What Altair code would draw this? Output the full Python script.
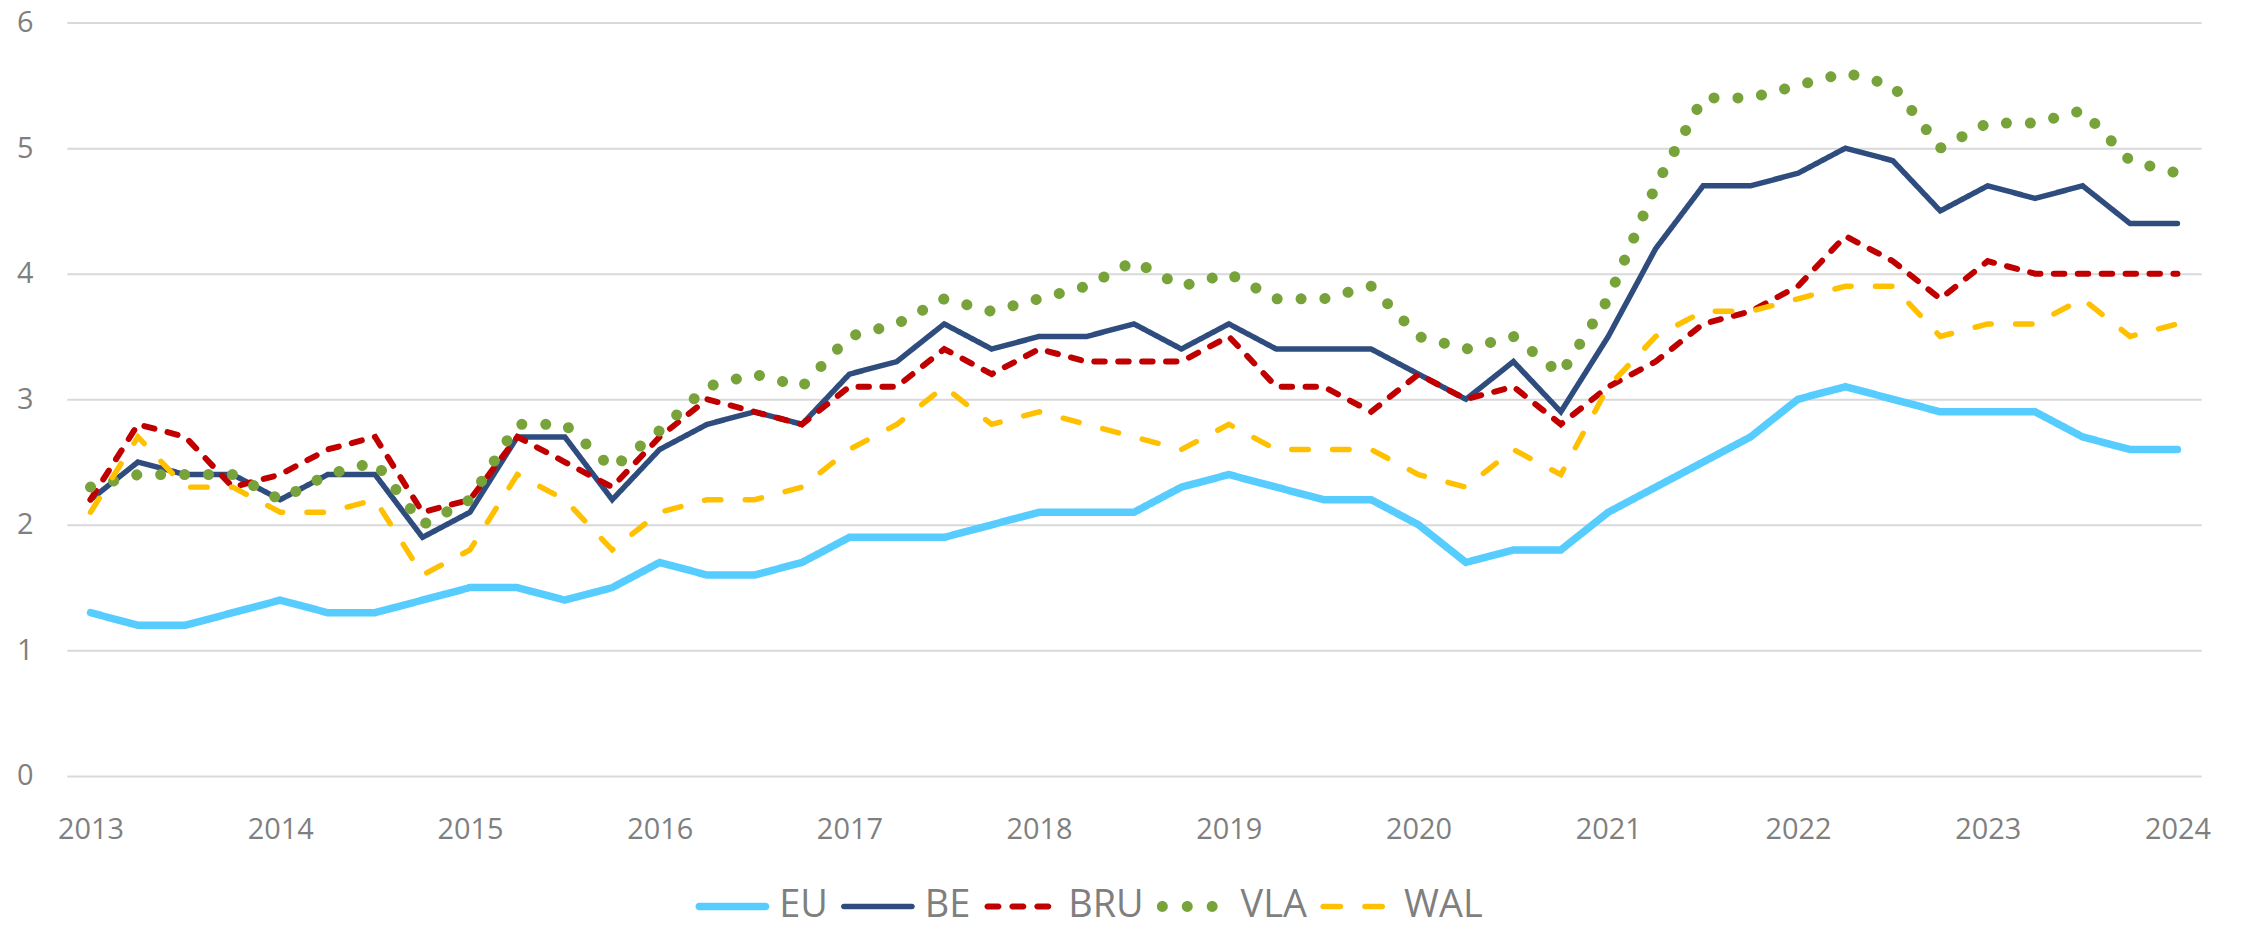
import altair as alt
import pandas as pd

# ---- data (quarterly, 2013Q1 .. 2024Q1) ----
year_labels = [str(y) for y in range(2013, 2025)]
series_names = ["EU", "BE", "BRU", "VLA", "WAL"]

eu = [1.3, 1.2, 1.2, 1.3, 1.4, 1.3, 1.3, 1.4, 1.5, 1.5, 1.4, 1.5, 1.7, 1.6, 1.6, 1.7,
      1.9, 1.9, 1.9, 2.0, 2.1, 2.1, 2.1, 2.3, 2.4, 2.3, 2.2, 2.2, 2.0, 1.7, 1.8, 1.8,
      2.1, 2.3, 2.5, 2.7, 3.0, 3.1, 3.0, 2.9, 2.9, 2.9, 2.7, 2.6, 2.6]
be = [2.2, 2.5, 2.4, 2.4, 2.2, 2.4, 2.4, 1.9, 2.1, 2.7, 2.7, 2.2, 2.6, 2.8, 2.9, 2.8,
      3.2, 3.3, 3.6, 3.4, 3.5, 3.5, 3.6, 3.4, 3.6, 3.4, 3.4, 3.4, 3.2, 3.0, 3.3, 2.9,
      3.5, 4.2, 4.7, 4.7, 4.8, 5.0, 4.9, 4.5, 4.7, 4.6, 4.7, 4.4, 4.4]
bru = [2.2, 2.8, 2.7, 2.3, 2.4, 2.6, 2.7, 2.1, 2.2, 2.7, 2.5, 2.3, 2.7, 3.0, 2.9, 2.8,
       3.1, 3.1, 3.4, 3.2, 3.4, 3.3, 3.3, 3.3, 3.5, 3.1, 3.1, 2.9, 3.2, 3.0, 3.1, 2.8,
       3.1, 3.3, 3.6, 3.7, 3.9, 4.3, 4.1, 3.8, 4.1, 4.0, 4.0, 4.0, 4.0]
vla = [2.3, 2.4, 2.4, 2.4, 2.2, 2.4, 2.5, 2.0, 2.2, 2.8, 2.8, 2.45, 2.75, 3.1, 3.2, 3.1,
       3.5, 3.6, 3.8, 3.7, 3.8, 3.9, 4.1, 3.9, 4.0, 3.8, 3.8, 3.9, 3.5, 3.4, 3.5, 3.2,
       3.8, 4.7, 5.4, 5.4, 5.5, 5.6, 5.5, 5.0, 5.2, 5.2, 5.3, 4.9, 4.8]
wal = [2.1, 2.7, 2.3, 2.3, 2.1, 2.1, 2.2, 1.6, 1.8, 2.4, 2.2, 1.8, 2.1, 2.2, 2.2, 2.3,
       2.6, 2.8, 3.1, 2.8, 2.9, 2.8, 2.7, 2.6, 2.8, 2.6, 2.6, 2.6, 2.4, 2.3, 2.6, 2.4,
       3.1, 3.5, 3.7, 3.7, 3.8, 3.9, 3.9, 3.5, 3.6, 3.6, 3.8, 3.5, 3.6]

y_ticks = [0, 1, 2, 3, 4, 5, 6]

# ---- styles ----
colors = ["#56CCFF", "#2E4D7E", "#C00000", "#77A33A", "#FFC000"]
widths = [7.5, 5.5, 6, 11, 5.5]
dashes = [[1, 0], [1, 0], [10.5, 13.5], [0.1, 23.9], [16.5, 24.5]]

# ---- legend symbol shapes (custom SVG paths, unit square [-1,1]) ----
SYM_LEN = 74.0          # legend symbol length in px
U = SYM_LEN / 2.0       # px per path unit


def _u(px):
    return round(px / U - 1.0, 4)


def _h(px):
    return round(px / U, 4)


def rbar(x0, x1, h):
    r = h / 2.0
    a, b, rr = _u(x0 + r), _u(x1 - r), _h(r)
    return (f"M{a},{-rr}L{b},{-rr}A{rr},{rr} 0 0 1 {b},{rr}"
            f"L{a},{rr}A{rr},{rr} 0 0 1 {a},{-rr}Z")


def dot(cx, d):
    r = _h(d / 2.0)
    c = _u(cx)
    return (f"M{round(c - r, 4)},0A{r},{r} 0 1 0 {round(c + r, 4)},0"
            f"A{r},{r} 0 1 0 {round(c - r, 4)},0Z")


shape_paths = [
    rbar(0, 74, widths[0]),
    rbar(0, 74, widths[1]),
    "".join(rbar(s, s + 17, widths[2]) for s in (0, 25, 50)),
    "".join(dot(c, widths[3]) for c in (5.5, 30.5, 55.5)),
    "".join(rbar(s, s + 23, widths[4]) for s in (0, 42)),
]

values_by_series = [eu, be, bru, vla, wal]
rows = []
for name, vals in zip(series_names, values_by_series):
    for i, v in enumerate(vals):
        rows.append({"idx": i, "value": v, "series": name})
df = pd.DataFrame(rows)

n = len(eu)
label_arr = "[" + ",".join("'%s'" % y for y in year_labels) + "]"

FONT = "Open Sans"
GRAY = "#7F7F7F"

x_enc = alt.X(
    "idx:Q",
    scale=alt.Scale(domain=[-0.5, n - 0.5], nice=False, zero=False),
    axis=alt.Axis(
        values=list(range(0, n, 4)),
        labelExpr=label_arr + "[datum.value / 4]",
        grid=False,
        title=None,
        labelPadding=40,
    ),
)
y_enc = alt.Y(
    "value:Q",
    scale=alt.Scale(domain=[0, 6], nice=False),
    axis=alt.Axis(values=y_ticks, grid=True, title=None, labelPadding=34),
)

# line scales use reversed domain order (keeps them apart from the legend scales)
rev_names = series_names[::-1]

lines = (
    alt.Chart(df)
    .mark_line(strokeCap="round")
    .encode(
        x=x_enc,
        y=y_enc,
        stroke=alt.Stroke("series:N",
                          scale=alt.Scale(domain=rev_names, range=colors[::-1]),
                          legend=None),
        strokeDash=alt.StrokeDash("series:N",
                                  scale=alt.Scale(domain=rev_names, range=dashes[::-1]),
                                  legend=None),
        strokeWidth=alt.StrokeWidth("series:N",
                                    scale=alt.Scale(type="ordinal", domain=rev_names,
                                                    range=widths[::-1]),
                                    legend=None),
    )
)

legend = alt.Legend(
    title=None,
    orient="none",
    legendX=631,
    legendY=850,
    direction="horizontal",
    columns=5,
    columnPadding=13,
    labelOffset=10,
    labelFont=FONT,
    labelFontSize=38,
    labelColor=GRAY,
    symbolSize=SYM_LEN * SYM_LEN,
    symbolOpacity=1,
    symbolStrokeWidth=0,
)

legend_layer = (
    alt.Chart(df)
    .transform_filter("false")
    .mark_point(filled=True, opacity=1)
    .encode(
        x=x_enc,
        y=y_enc,
        fill=alt.Fill("series:N",
                      scale=alt.Scale(domain=series_names, range=colors),
                      legend=legend),
        shape=alt.Shape("series:N",
                        scale=alt.Scale(domain=series_names, range=shape_paths),
                        legend=legend),
    )
)

chart = (
    alt.layer(legend_layer, lines)
    .properties(
        width=2142,
        height=756,
        padding={"left": 59, "top": 13, "right": 40, "bottom": 150},
        autosize=alt.AutoSizeParams(type="none"),
    )
    .configure_view(stroke=None)
    .configure_axis(
        domain=False,
        ticks=False,
        tickSize=0,
        labelFont=FONT,
        labelFontSize=29,
        labelColor=GRAY,
        gridColor="#D9D9D9",
        gridWidth=2,
    )
)

chart.save("out.html", embed_options={"renderer": "svg", "actions": False})
